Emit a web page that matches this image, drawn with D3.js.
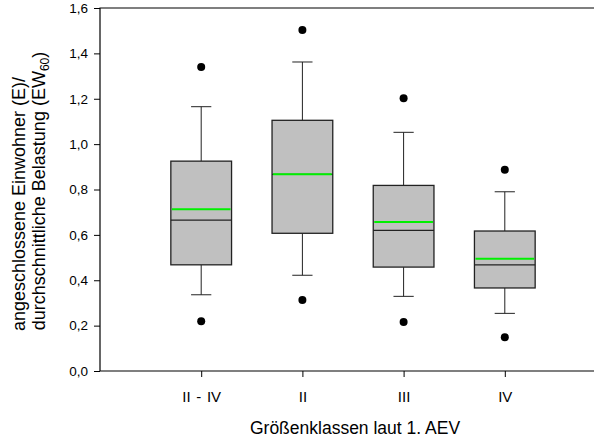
<!DOCTYPE html>
<html>
<head>
<meta charset="utf-8">
<script src="https://cdn.jsdelivr.net/npm/d3@7"></script>
<style>
  body { margin: 0; background: #fff; overflow: hidden; }
  svg { display: block; font-family: "Liberation Sans", Arial, sans-serif; }
</style>
</head>
<body>
<svg id="chart" width="594" height="439"></svg>
<script>
// Größenklassen laut 1. AEV
var categories = ["II - IV", "II", "III", "IV"];
// box statistics
var whiskerLow  = [0.336, 0.422, 0.329, 0.254];
var q1          = [0.468, 0.607, 0.458, 0.366];
var median      = [0.665, 0.867, 0.620, 0.468];
var mean        = [0.713, 0.867, 0.657, 0.495];
var q3          = [0.925, 1.105, 0.818, 0.617];
var whiskerHigh = [1.165, 1.362, 1.052, 0.790];
var outlierLow  = [0.219, 0.313, 0.216, 0.149];
var outlierHigh = [1.340, 1.503, 1.202, 0.887];
var yTicks = [0, 0.2, 0.4, 0.6, 0.8, 1.0, 1.2, 1.4, 1.6];

var svg = d3.select("#chart");
var plotL = 100, plotT = 8, plotB = 371, plotR = 606;

var x = d3.scaleLinear().domain([0, categories.length + 1]).range([plotL, plotR]);
var y = d3.scaleLinear().domain([0, 1.6]).range([plotB, plotT]);
var fmt = function(d) { return d3.format(".1f")(d).replace(".", ","); };

var boxW = (x(1) - x(0)) * 0.6;
var capW = boxW / 3;

// frame: left, top, bottom (right edge falls outside the picture)
svg.append("path")
  .attr("d", "M" + plotR + "," + plotT + "H" + plotL + "V" + plotB + "H" + plotR)
  .attr("fill", "none").attr("stroke", "#000").attr("stroke-width", 1.2);

// axes
var yAxis = svg.append("g")
  .attr("transform", "translate(" + plotL + ",0)")
  .call(d3.axisLeft(y).tickValues(yTicks).tickFormat(fmt).tickSize(6).tickPadding(6));
var xAxis = svg.append("g")
  .attr("transform", "translate(0," + plotB + ")")
  .call(d3.axisBottom(x).tickValues(d3.range(1, categories.length + 1))
    .tickFormat(function(d) { return categories[d - 1]; }).tickSize(6).tickPadding(14));
[yAxis, xAxis].forEach(function(g) {
  g.select(".domain").remove();
  g.selectAll("line").attr("stroke", "#000");
  g.selectAll("text").attr("fill", "#000")
    .attr("font-family", "Liberation Sans, Arial, sans-serif");
});
yAxis.selectAll("text").attr("font-size", 13.5);
xAxis.selectAll("text").attr("font-size", 15).attr("word-spacing", 1.5);

var idx = d3.range(categories.length);
var boxes = svg.append("g").selectAll("g").data(idx).join("g");

// whiskers
boxes.append("line")
  .attr("x1", function(i) { return x(i + 1); }).attr("x2", function(i) { return x(i + 1); })
  .attr("y1", function(i) { return y(q3[i]); }).attr("y2", function(i) { return y(whiskerHigh[i]); })
  .attr("stroke", "#222");
boxes.append("line")
  .attr("x1", function(i) { return x(i + 1); }).attr("x2", function(i) { return x(i + 1); })
  .attr("y1", function(i) { return y(q1[i]); }).attr("y2", function(i) { return y(whiskerLow[i]); })
  .attr("stroke", "#222");
[whiskerHigh, whiskerLow].forEach(function(arr) {
  boxes.append("line")
    .attr("x1", function(i) { return x(i + 1) - capW / 2; })
    .attr("x2", function(i) { return x(i + 1) + capW / 2; })
    .attr("y1", function(i) { return y(arr[i]); }).attr("y2", function(i) { return y(arr[i]); })
    .attr("stroke", "#222");
});

// box
boxes.append("rect")
  .attr("x", function(i) { return x(i + 1) - boxW / 2; })
  .attr("y", function(i) { return y(q3[i]); })
  .attr("width", boxW)
  .attr("height", function(i) { return y(q1[i]) - y(q3[i]); })
  .attr("fill", "#c0c0c0").attr("stroke", "#222").attr("stroke-width", 1.3);

// median
boxes.append("line")
  .attr("x1", function(i) { return x(i + 1) - boxW / 2; })
  .attr("x2", function(i) { return x(i + 1) + boxW / 2; })
  .attr("y1", function(i) { return y(median[i]); }).attr("y2", function(i) { return y(median[i]); })
  .attr("stroke", "#222").attr("stroke-width", 1.3);

// mean
boxes.append("line")
  .attr("x1", function(i) { return x(i + 1) - boxW / 2 + 1; })
  .attr("x2", function(i) { return x(i + 1) + boxW / 2 - 1; })
  .attr("y1", function(i) { return y(mean[i]); }).attr("y2", function(i) { return y(mean[i]); })
  .attr("stroke", "#00f000").attr("stroke-width", 2);

// outliers
[outlierHigh, outlierLow].forEach(function(arr) {
  boxes.append("circle")
    .attr("cx", function(i) { return x(i + 1); })
    .attr("cy", function(i) { return y(arr[i]); })
    .attr("r", 4).attr("fill", "#000");
});

// axis titles
svg.append("text")
  .attr("x", 355).attr("y", 434)
  .attr("text-anchor", "middle").attr("font-size", 17.5)
  .text("Größenklassen laut 1. AEV");

var yt = svg.append("g").attr("transform", "rotate(-90)")
  .attr("font-size", 18);
yt.append("text").attr("x", -204).attr("y", 25).attr("text-anchor", "middle")
  .text("angeschlossene Einwohner (E)/");
var t2 = yt.append("text").attr("x", -191).attr("y", 45).attr("text-anchor", "middle");
t2.append("tspan").text("durchschnittliche Belastung (EW");
t2.append("tspan").attr("font-size", 12).attr("dy", 4).text("60");
t2.append("tspan").attr("dy", -4).text(")");
</script>
</body>
</html>
